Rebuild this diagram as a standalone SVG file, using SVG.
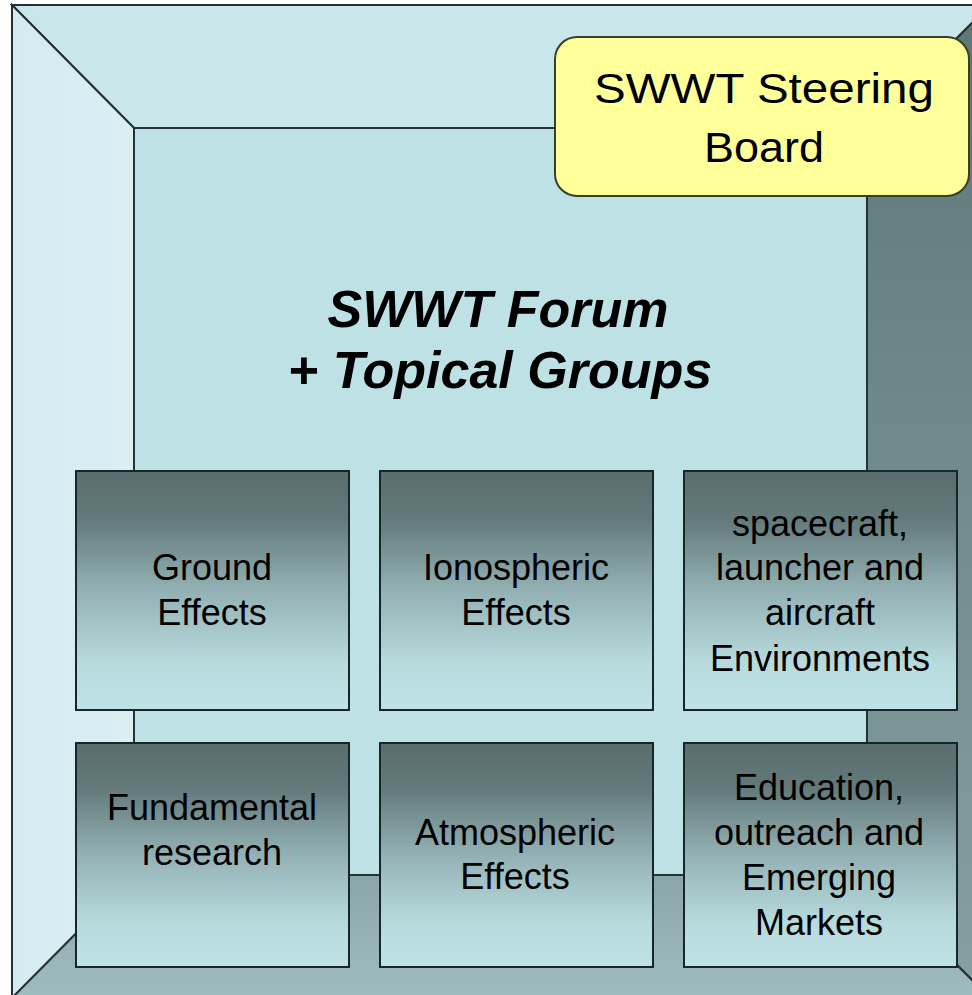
<svg xmlns="http://www.w3.org/2000/svg" width="972" height="995" viewBox="0 0 972 995">
<defs>
<linearGradient id="boxg" x1="0" y1="0" x2="0" y2="1">
<stop offset="0" stop-color="#5a6d6d"/>
<stop offset="0.2" stop-color="#63797a"/>
<stop offset="0.5" stop-color="#93b1b4"/>
<stop offset="0.8" stop-color="#b7dadd"/>
<stop offset="1" stop-color="#bfe2e6"/>
</linearGradient>
<linearGradient id="rightg" x1="0" y1="0" x2="0" y2="1">
<stop offset="0" stop-color="#5e7676"/>
<stop offset="1" stop-color="#86a0a2"/>
</linearGradient>
<linearGradient id="bottomg" x1="0" y1="0" x2="0" y2="1">
<stop offset="0" stop-color="#8ba6a8"/>
<stop offset="1" stop-color="#9fbcbe"/>
</linearGradient>
<linearGradient id="leftg" x1="0" y1="0" x2="1" y2="0">
<stop offset="0" stop-color="#d5ebef"/>
<stop offset="1" stop-color="#dbeff3"/>
</linearGradient>
</defs>
<style>
.wall{stroke:#243234;stroke-width:2;stroke-linejoin:miter}
.box{fill:url(#boxg);stroke:#17262a;stroke-width:2}
.t{font-family:"Liberation Sans",Arial,sans-serif;font-size:36px;fill:#000;text-anchor:middle}
.title{font-family:"Liberation Sans",Arial,sans-serif;font-size:52px;font-weight:bold;font-style:italic;fill:#000;text-anchor:middle}
.board{font-family:"Liberation Sans",Arial,sans-serif;font-size:42px;fill:#000;text-anchor:middle}
</style>
<rect x="0" y="0" width="972" height="995" fill="#ffffff"/>
<g id="room">
<polygon class="wall" points="12,5 990,5 867,128 134,128" fill="#c9e6ea"/>
<polygon class="wall" points="12,5 134,128 134,875 12,998" fill="url(#leftg)"/>
<polygon class="wall" points="990,5 990,998 867,875 867,128" fill="url(#rightg)"/>
<polygon class="wall" points="12,998 134,875 867,875 990,998" fill="url(#bottomg)"/>
<rect class="wall" x="134" y="128" width="733" height="747" fill="#bde1e5"/>
</g>
<g id="steering-board">
<rect x="555" y="37" width="414" height="159" rx="22" ry="22" fill="#ffff99" stroke="#3a3f2a" stroke-width="2"/>
<text class="board" x="764" y="103" textLength="340" lengthAdjust="spacingAndGlyphs">SWWT Steering</text>
<text class="board" x="764" y="162" textLength="120" lengthAdjust="spacingAndGlyphs">Board</text>
</g>
<g id="forum">
<text class="title" x="498" y="327">SWWT Forum</text>
<text class="title" x="500" y="388">+ Topical Groups</text>
</g>
<g id="ground-effects">
<rect class="box" x="76" y="471" width="273" height="239"/>
<text class="t" x="212" y="580">Ground</text>
<text class="t" x="212" y="625">Effects</text>
</g>
<g id="ionospheric-effects">
<rect class="box" x="380" y="471" width="273" height="239"/>
<text class="t" x="516" y="580">Ionospheric</text>
<text class="t" x="516" y="625">Effects</text>
</g>
<g id="spacecraft-environments">
<rect class="box" x="684" y="471" width="273" height="239"/>
<text class="t" x="820" y="536">spacecraft,</text>
<text class="t" x="820" y="580">launcher and</text>
<text class="t" x="820" y="625">aircraft</text>
<text class="t" x="820" y="671">Environments</text>
</g>
<g id="fundamental-research">
<rect class="box" x="76" y="743" width="273" height="224"/>
<text class="t" x="212" y="820">Fundamental</text>
<text class="t" x="212" y="865">research</text>
</g>
<g id="atmospheric-effects">
<rect class="box" x="380" y="743" width="273" height="224"/>
<text class="t" x="515" y="845">Atmospheric</text>
<text class="t" x="515" y="889">Effects</text>
</g>
<g id="education-markets">
<rect class="box" x="684" y="743" width="273" height="224"/>
<text class="t" x="819" y="800">Education,</text>
<text class="t" x="819" y="845">outreach and</text>
<text class="t" x="819" y="890">Emerging</text>
<text class="t" x="819" y="935">Markets</text>
</g>
<g id="connectors"></g>
</svg>
